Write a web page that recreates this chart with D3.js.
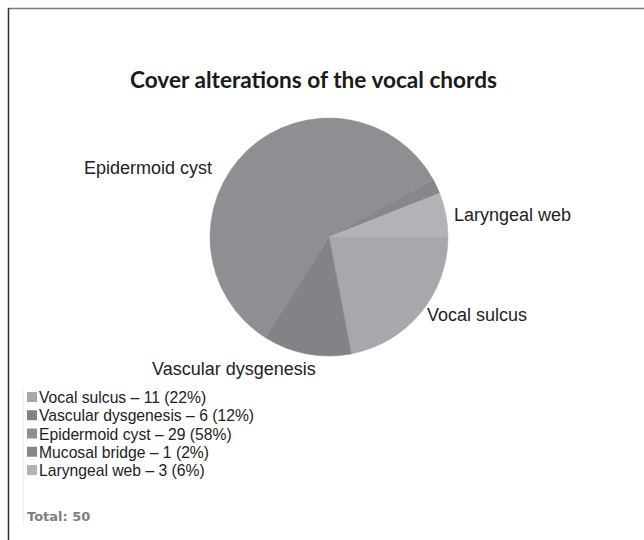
<!DOCTYPE html>
<html><head><meta charset="utf-8">
<script src="https://cdn.jsdelivr.net/npm/d3@7"></script>
<style>body{margin:0;background:#fff}</style>
</head><body>
<svg id="c" width="644" height="540"></svg>
<script>
const categories = ["Vocal sulcus","Vascular dysgenesis","Epidermoid cyst","Mucosal bridge","Laryngeal web"];
const counts = [11, 6, 29, 1, 3];
const percents = [22, 12, 58, 2, 6];
const sliceColors = ["#a7a8ac","#828387","#8e8f93","#86878b","#b2b3b6"];
const pieLabels = ["Vocal sulcus","Vascular dysgenesis","Epidermoid cyst","","Laryngeal web"];
const title = "Cover alterations of the vocal chords";
const totalLabel = "Total:  50";

const svg = d3.select("#c");
// frame
svg.append("line").attr("x1",8.5).attr("x2",644).attr("y1",8.5).attr("y2",8.5).attr("stroke","#7a7a7a").attr("stroke-width",1.5);
svg.append("line").attr("x1",8.5).attr("x2",8.5).attr("y1",8).attr("y2",540).attr("stroke","#333").attr("stroke-width",1.5);

svg.append("text").attr("x",313.5).attr("y",88).attr("text-anchor","middle")
  .attr("textLength",367).attr("lengthAdjust","spacingAndGlyphs")
  .style("font-family","Lato, 'Open Sans', sans-serif").style("font-weight","bold").style("font-size","22.5px")
  .attr("fill","#1a1a1a").text(title);

const cx = 329, cy = 237, r = 119;
const data = categories.map((c,i)=>({c, v:counts[i], i}));
const pie = d3.pie().value(d=>d.v).sort(null).startAngle(Math.PI/2).endAngle(Math.PI/2 + 2*Math.PI);
const arc = d3.arc().innerRadius(0).outerRadius(r);
const g = svg.append("g").attr("transform",`translate(${cx},${cy})`);
g.selectAll("path").data(pie(data)).join("path")
  .attr("d",arc).attr("fill",d=>sliceColors[d.data.i]).attr("stroke",d=>sliceColors[d.data.i]).attr("stroke-width",0.5);

// outside labels
const labelPos = {
  "Epidermoid cyst":[84,174,"start"],
  "Laryngeal web":[454,221,"start"],
  "Vocal sulcus":[427,321,"start"],
  "Vascular dysgenesis":[152,375,"start"]
};
pieLabels.forEach(l=>{
  if(!l) return;
  const p = labelPos[l];
  svg.append("text").attr("x",p[0]).attr("y",p[1]).attr("text-anchor",p[2])
    .style("font-family","'Liberation Sans', Arial, sans-serif").style("font-size","18px")
    .attr("fill","#222").text(l);
});

// legend
const ly = d3.scaleLinear().domain([0,4]).range([397,470]);
svg.append("line").attr("x1",23.5).attr("x2",23.5).attr("y1",388).attr("y2",526).attr("stroke","#f0f0f0");
const lg = svg.append("g");
categories.forEach((c,i)=>{
  lg.append("rect").attr("x",27).attr("y",ly(i)-5).attr("width",10).attr("height",10).attr("fill",sliceColors[i]);
  lg.append("text").attr("x",39).attr("y",ly(i)+6)
    .style("font-family","'Liberation Sans', Arial, sans-serif").style("font-size","15.7px")
    .attr("fill","#222").text(`${c} – ${counts[i]} (${percents[i]}%)`);
});
svg.append("text").attr("x",27).attr("y",521)
  .style("font-family","'DejaVu Sans', sans-serif").style("font-weight","bold").style("font-size","13px")
  .attr("fill","#808080").text(totalLabel);
</script>
</body></html>
